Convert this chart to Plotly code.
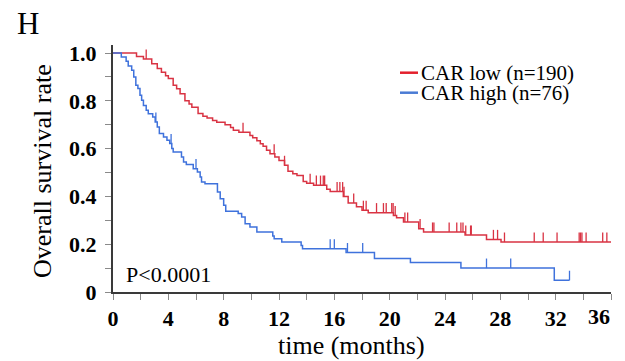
import numpy as np
import plotly.graph_objects as go

# ---- data ----
low_t = [0, 1.7, 2.2, 2.8, 3.2, 3.5, 3.8, 4.0, 4.35, 4.6, 4.85, 5.2, 5.5, 5.7, 6.15, 6.5, 6.8,
         7.2, 7.5, 8.1, 8.5, 8.7, 9.1, 9.9, 10.1, 10.4, 10.65, 10.85, 11.1, 11.35, 11.7, 12.0,
         12.4, 12.65, 13.0, 13.3, 13.75, 14.0, 14.5, 15.45, 15.7, 16.65, 17.0, 17.6, 18.0,
         18.45, 20.27, 20.5, 21.0, 22.1, 22.45, 25.45, 27.0, 28.05, 36.0]
low_s = [1.0, 0.985, 0.975, 0.955, 0.935, 0.92, 0.905, 0.893, 0.865, 0.85, 0.83, 0.80, 0.787,
         0.773, 0.747, 0.735, 0.728, 0.718, 0.71, 0.70, 0.688, 0.677, 0.668, 0.655, 0.645,
         0.633, 0.62, 0.61, 0.593, 0.578, 0.565, 0.55, 0.53, 0.505, 0.495, 0.487, 0.462,
         0.455, 0.447, 0.43, 0.42, 0.40, 0.372, 0.357, 0.342, 0.332, 0.32, 0.311, 0.293,
         0.265, 0.251, 0.238, 0.22, 0.209, 0.209]
low_cens = [2.4, 9.4, 11.65, 12.4, 14.25, 14.7, 15.0, 15.2, 15.3, 16.2, 16.4, 16.6, 16.7,
            17.4, 18.1, 18.3, 19.05, 19.55, 19.75, 20.15, 20.25, 20.4, 21.1, 21.3, 22.2,
            23.1, 23.2, 24.3, 24.85, 25.15, 25.3, 25.5, 25.85, 25.9, 27.5, 27.8, 28.3,
            30.45, 31.1, 32.1, 33.7, 33.8, 33.9, 34.2, 35.4, 35.7]

high_t = [0, 0.6, 0.95, 1.1, 1.35, 1.5, 1.65, 1.8, 1.95, 2.07, 2.2, 2.4, 2.55, 2.87, 3.05, 3.2,
          3.35, 3.65, 3.9, 4.1, 4.25, 4.35, 4.95, 5.1, 5.3, 5.8, 6.1, 6.3, 6.4, 6.65, 7.55,
          7.75, 8.0, 8.15, 9.05, 9.3, 9.55, 9.9, 10.4, 11.55, 11.65, 12.2, 13.6, 13.7, 16.85,
          18.9, 21.5, 25.15, 31.9, 33.0]
high_s = [1.0, 0.983, 0.965, 0.946, 0.928, 0.90, 0.865, 0.851, 0.823, 0.802, 0.78, 0.76,
          0.746, 0.732, 0.711, 0.69, 0.663, 0.649, 0.635, 0.621, 0.60, 0.586, 0.565, 0.544,
          0.534, 0.516, 0.502, 0.481, 0.46, 0.453, 0.418, 0.39, 0.363, 0.338, 0.328, 0.314,
          0.286, 0.272, 0.251, 0.234, 0.223, 0.209, 0.195, 0.181, 0.165, 0.14, 0.123, 0.10,
          0.049, 0.049]
high_cens = [3.1, 4.2, 6.0, 15.7, 16.0, 16.95, 18.05, 27.0, 28.75, 33.0]

y_tickvals = [0, 0.2, 0.4, 0.6, 0.8, 1.0]
y_ticktext = ["0", "0.2", "0.4", "0.6", "0.8", "1.0"]
x_tickvals = [0, 4, 8, 12, 16, 20, 24, 28, 32, 36]
x_ticktext = ["0", "4", "8", "12", "16", "20", "24", "28", "32", "36"]

RED = "#d93343"
BLUE = "#3f72dc"
FONT = "Liberation Serif"


def step_value(times, surv, t):
    i = np.searchsorted(np.array(times), t, side="right") - 1
    return surv[max(i, 0)]


def censor_xy(times, surv, cens, h=0.04):
    xs, ys = [], []
    for c in cens:
        v = step_value(times, surv, c)
        xs += [c, c, None]
        ys += [v, v + h, None]
    return xs, ys


fig = go.Figure()
for t, s, c, col, name in [(low_t, low_s, low_cens, RED, "CAR low (n=190)"),
                           (high_t, high_s, high_cens, BLUE, "CAR high (n=76)")]:
    fig.add_trace(go.Scatter(x=t, y=s, mode="lines", line=dict(color=col, width=1.5, shape="hv"),
                             name=name, showlegend=False))
    cx, cy = censor_xy(t, s, c)
    fig.add_trace(go.Scatter(x=cx, y=cy, mode="lines", line=dict(color=col, width=1.3),
                             showlegend=False, hoverinfo="skip"))

W, H = 625, 361
ml, mr, mt, mb = 113, 14, 45, 69
pw, ph = W - ml - mr, H - mt - mb


def px_x(p):
    return (p - ml) / pw


def px_y(p):
    return (H - mb - p) / ph


TICKFONT = dict(family=FONT, size=22, color="black", weight="bold")
axis_common = dict(showline=True, linecolor="#3a3a3a", linewidth=2, ticks="outside",
                   ticklen=6, tickcolor="#8a8a8a", tickwidth=1.2, showgrid=False,
                   zeroline=False, automargin=False, tickfont=TICKFONT)

# last x tick label is drawn shifted left (as in the reference) so it is not clipped
x_ticktext_shown = x_ticktext[:-1] + [""]

fig.update_layout(
    width=W, height=H, margin=dict(l=ml, r=mr, t=mt, b=mb, autoexpand=False),
    paper_bgcolor="white", plot_bgcolor="white",
    font=dict(family=FONT, color="black"),
    xaxis=dict(range=[0, 36], tickmode="array", tickvals=x_tickvals, ticktext=x_ticktext_shown,
               minor=dict(dtick=2, ticks="outside", ticklen=6, tickcolor="#8a8a8a", tickwidth=1.2),
               ticklabelstandoff=0, **axis_common),
    yaxis=dict(range=[0, 1.0335], tickmode="array", tickvals=y_tickvals, ticktext=y_ticktext,
               minor=dict(dtick=0.1, ticks="outside", ticklen=6, tickcolor="#8a8a8a", tickwidth=1.2),
               ticklabelstandoff=4, **axis_common),
)

fig.add_annotation(xref="x", yref="paper", x=x_tickvals[-1], y=px_y(316), text=x_ticktext[-1],
                   showarrow=False, xanchor="right", yanchor="middle", xshift=1,
                   font=TICKFONT)

# legend (manual)
for yy, col, txt in [(72.7, "#e3202c", "CAR low (n=190)"), (92.7, "#4a7bd4", "CAR high (n=76)")]:
    fig.add_shape(type="line", xref="paper", yref="paper", x0=px_x(400), x1=px_x(418),
                  y0=px_y(yy), y1=px_y(yy), line=dict(color=col, width=2.5))
    fig.add_annotation(xref="paper", yref="paper", x=px_x(419), y=px_y(yy), text=txt,
                       showarrow=False, xanchor="left", yanchor="middle",
                       font=dict(family=FONT, size=21, color="black"))

fig.add_annotation(xref="paper", yref="paper", x=px_x(124), y=px_y(274), text="P<0.0001",
                   showarrow=False, xanchor="left", yanchor="middle",
                   font=dict(family=FONT, size=22, color="black"))
fig.add_annotation(xref="paper", yref="paper", x=px_x(28), y=px_y(23), text="H",
                   showarrow=False, xanchor="center", yanchor="middle",
                   font=dict(family=FONT, size=31, color="black"))
fig.add_annotation(xref="paper", yref="paper", x=px_x(42), y=px_y(171), text="Overall survival rate",
                   showarrow=False, textangle=-90, xanchor="center", yanchor="middle",
                   font=dict(family=FONT, size=26, color="black"))
fig.add_annotation(xref="paper", yref="paper", x=px_x(351), y=px_y(345), text="time (months)",
                   showarrow=False, xanchor="center", yanchor="middle",
                   font=dict(family=FONT, size=26, color="black"))

fig.write_html("out.html", config={"displayModeBar": False},
               post_script="document.body.style.margin='0';document.body.style.overflow='hidden';")
